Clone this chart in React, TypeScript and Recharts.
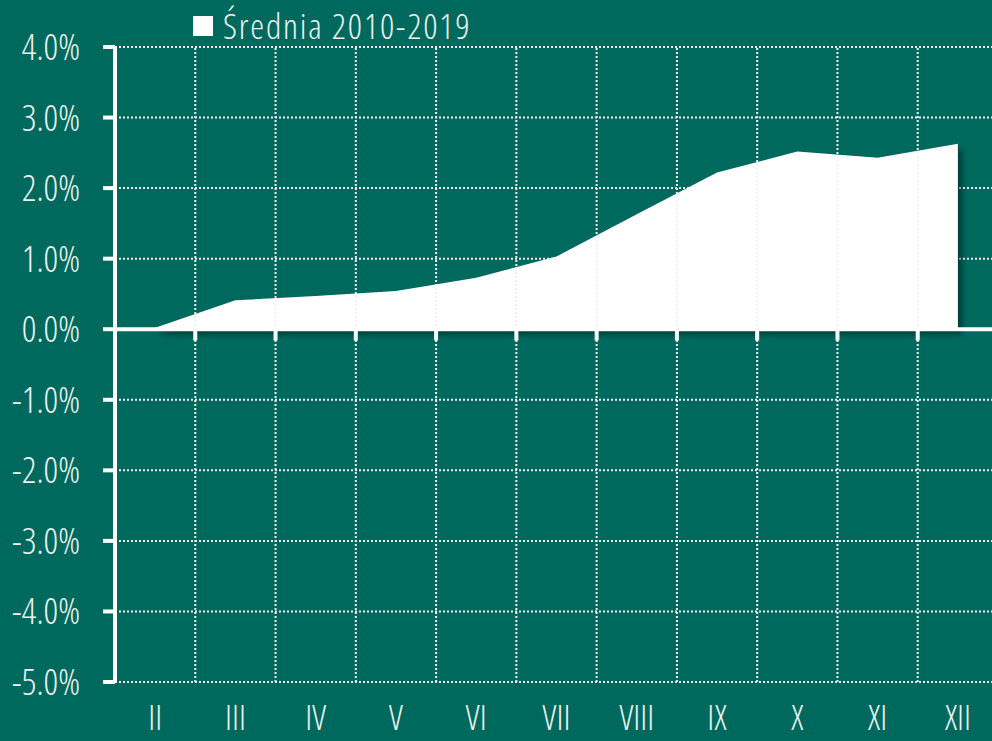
import React from "react";
import {
  ComposedChart, Area, XAxis, YAxis, CartesianGrid, ReferenceLine,
} from "recharts";

const BG = "#00695D";
const FG = "#EEF3F1";
const FONT = "'Open Sans', sans-serif";

// months II..XII (numeric position + roman label)
const monthNums = [2, 3, 4, 5, 6, 7, 8, 9, 10, 11, 12];
const monthLabels = ["II", "III", "IV", "V", "VI", "VII", "VIII", "IX", "X", "XI", "XII"];
// Średnia 2010-2019, %
const avgValues = [0.02, 0.41, 0.47, 0.54, 0.73, 1.03, 1.63, 2.22, 2.52, 2.43, 2.63];
const yTicks = [-5, -4, -3, -2, -1, 0, 1, 2, 3, 4];
// category boundaries (gridlines + small ticks on the zero line)
const bounds = [2.5, 3.5, 4.5, 5.5, 6.5, 7.5, 8.5, 9.5, 10.5, 11.5, 12.5];

const data = monthNums.map((m, i) => ({ m, avg: avgValues[i] }));

const textStyle = { fontFamily: FONT, fontWeight: 300, fontStretch: "condensed" };

const XTick = (props: any) => {
  const { x, y, payload } = props;
  const idx = monthNums.indexOf(payload.value);
  return (
    <text x={x} y={y + 48} textAnchor="middle" fill={FG} fontSize={35} style={textStyle}>
      {monthLabels[idx]}
    </text>
  );
};

const YTick = (props: any) => {
  const { x, y, payload } = props;
  return (
    <text x={x} y={y} dy="0.36em" textAnchor="end" fill={FG} fontSize={36} style={textStyle}>
      {payload.value.toFixed(1) + "%"}
    </text>
  );
};

export default function App() {
  return (
    <div style={{ position: "absolute", left: 0, top: 0, width: 992, height: 741, background: BG, overflow: "hidden" }}>
      <div style={{ position: "absolute", left: 193, top: 4, display: "flex", alignItems: "center", zIndex: 2 }}>
        <div style={{ width: 20, height: 20, background: "#fff", marginRight: 10 }} />
        <span style={{ color: FG, fontSize: 35, ...textStyle, letterSpacing: 1.8, lineHeight: "44px" }}>
          Średnia 2010-2019
        </span>
      </div>
      <ComposedChart width={1000} height={741} data={data} margin={{ top: 47, right: 2, bottom: 0, left: 0 }}>
        <defs>
          <filter id="areaShadow" x="-5%" y="-5%" width="115%" height="130%">
            <feDropShadow dx={4} dy={5} stdDeviation={3} floodColor="#000" floodOpacity={0.45} />
          </filter>
        </defs>
        <CartesianGrid vertical={false} stroke={FG} strokeWidth={2} strokeDasharray="2 2" />
        {bounds.map((b) => (
          <ReferenceLine key={"g" + b} x={b} stroke={FG} strokeWidth={2} strokeDasharray="2 2" />
        ))}
        <XAxis
          dataKey="m"
          type="number"
          domain={[1.5, 12.5]}
          ticks={monthNums}
          axisLine={false}
          tickLine={false}
          tickSize={0}
          tickMargin={0}
          height={59}
          tick={<XTick />}
          interval={0}
        />
        <YAxis
          type="number"
          domain={[-5, 4]}
          ticks={yTicks}
          width={115}
          axisLine={{ stroke: "#fff", strokeWidth: 4 }}
          tickLine={{ stroke: "#fff", strokeWidth: 4 }}
          tickSize={12}
          tickMargin={23}
          tick={<YTick />}
          interval={0}
        />
        <Area
          type="linear"
          dataKey="avg"
          baseValue={0}
          fill="#fff"
          fillOpacity={1}
          stroke="none"
          isAnimationActive={false}
          filter="url(#areaShadow)"
        />
        <ReferenceLine y={0} stroke="#fff" strokeWidth={4} />
        {bounds.map((b) => (
          <ReferenceLine
            key={"t" + b}
            segment={[{ x: b, y: 0 }, { x: b, y: -0.16 }]}
            stroke="#fff"
            strokeWidth={4}
          />
        ))}
      </ComposedChart>
    </div>
  );
}
